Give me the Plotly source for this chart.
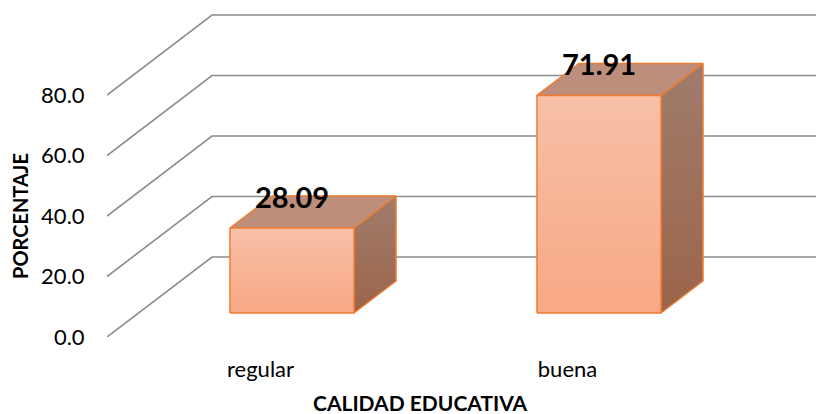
import plotly.graph_objects as go

categories = ["regular", "buena"]
values = [28.09, 71.91]
value_labels = ["28.09", "71.91"]
y_ticks = [0, 20, 40, 60, 80]
y_tick_labels = ["0.0", "20.0", "40.0", "60.0", "80.0"]
x_title = "CALIDAD EDUCATIVA"
y_title = "PORCENTAJE"

# oblique 3D projection parameters (in axis units)
DX = 0.342      # x shift for full floor depth
DY = 26.45      # y shift for full floor depth
F0, F1 = 0.3, 0.7   # bar depth fraction (front, back)
HW = 0.202      # half bar width
XL = -0.5       # left wall x
XR = 1.5 + DX + 0.1

GRID = "#8c8c8c"
EDGE = "#ED7D31"
FONT = "Lato"

W, H = 816, 414
ML, MB = 107, 77
px_per_x = 307.0
px_per_y = 3.025
PW, PH = W - ML, H - MB

fig = go.Figure()

# side wall diagonals and back wall lines
for v in y_ticks:
    fig.add_trace(go.Scatter(
        x=[XL, XL + DX, XR], y=[v, v + DY, v + DY], mode="lines",
        line=dict(color=GRID, width=1.6), hoverinfo="skip", showlegend=False))

annotations = []
for i, (cat, v, lab) in enumerate(zip(categories, values, value_labels)):
    xc = i + F0 * DX
    x0, x1 = xc - HW, xc + HW
    yb = F0 * DY
    yt = yb + v
    ddx = (F1 - F0) * DX
    ddy = (F1 - F0) * DY
    # side face
    fig.add_trace(go.Scatter(
        x=[x1, x1 + ddx, x1 + ddx, x1, x1], y=[yb, yb + ddy, yt + ddy, yt, yb],
        mode="lines", fill="toself",
        fillgradient=dict(type="vertical", colorscale=[[0, "#9C644A"], [1, "#A07C6C"]]),
        line=dict(color=EDGE, width=1.5), hoverinfo="skip", showlegend=False))
    # top face
    fig.add_trace(go.Scatter(
        x=[x0, x1, x1 + ddx, x0 + ddx, x0], y=[yt, yt, yt + ddy, yt + ddy, yt],
        mode="lines", fill="toself", fillcolor="#BC8E7B",
        line=dict(color=EDGE, width=1.5), hoverinfo="skip", showlegend=False))
    # front face
    fig.add_trace(go.Scatter(
        x=[x0, x1, x1, x0, x0], y=[yb, yb, yt, yt, yb],
        mode="lines", fill="toself",
        fillgradient=dict(type="vertical", colorscale=[[0, "#F8A884"], [1, "#F7C0A8"]]),
        line=dict(color=EDGE, width=1.5), hoverinfo="skip", showlegend=False))
    annotations.append(dict(
        x=xc, y=yt + ddy, xref="x", yref="y", text=lab, showarrow=False,
        font=dict(family=FONT, size=29, color="black", weight="bold"),
        xanchor="center", yanchor="middle"))

# axis titles positioned in page pixels, converted to paper (plot-area) fractions
annotations.append(dict(
    x=(420 - ML) / PW, y=(PH - 402) / PH, xref="paper", yref="paper",
    text="<b>" + x_title + "</b>", showarrow=False,
    xanchor="center", yanchor="middle",
    font=dict(family=FONT, size=21, color="black")))
annotations.append(dict(
    x=(20 - ML) / PW, y=(PH - 216) / PH, xref="paper", yref="paper",
    text="<b>" + y_title + "</b>", showarrow=False, textangle=-90,
    xanchor="center", yanchor="middle",
    font=dict(family=FONT, size=20, color="black")))

x_range = [XL, XL + PW / px_per_x]
y_range = [0, PH / px_per_y]

fig.update_layout(
    width=W, height=H,
    margin=dict(l=ML, r=0, t=0, b=MB, autoexpand=False),
    paper_bgcolor="white", plot_bgcolor="white",
    annotations=annotations,
    xaxis=dict(range=x_range, tickvals=list(range(len(categories))), ticktext=categories,
               showgrid=False, zeroline=False, showline=False,
               ticks="outside", ticklen=13, tickcolor="rgba(0,0,0,0)",
               tickfont=dict(family=FONT, size=22, color="black"), automargin=False),
    yaxis=dict(range=y_range, tickvals=y_ticks, ticktext=y_tick_labels,
               showgrid=False, zeroline=False, showline=False,
               ticks="outside", ticklen=17, tickcolor="rgba(0,0,0,0)",
               tickfont=dict(family=FONT, size=22, color="black"), automargin=False),
)

fig.write_html("out.html", config={"displayModeBar": False},
               post_script="document.body.style.margin='0';")
